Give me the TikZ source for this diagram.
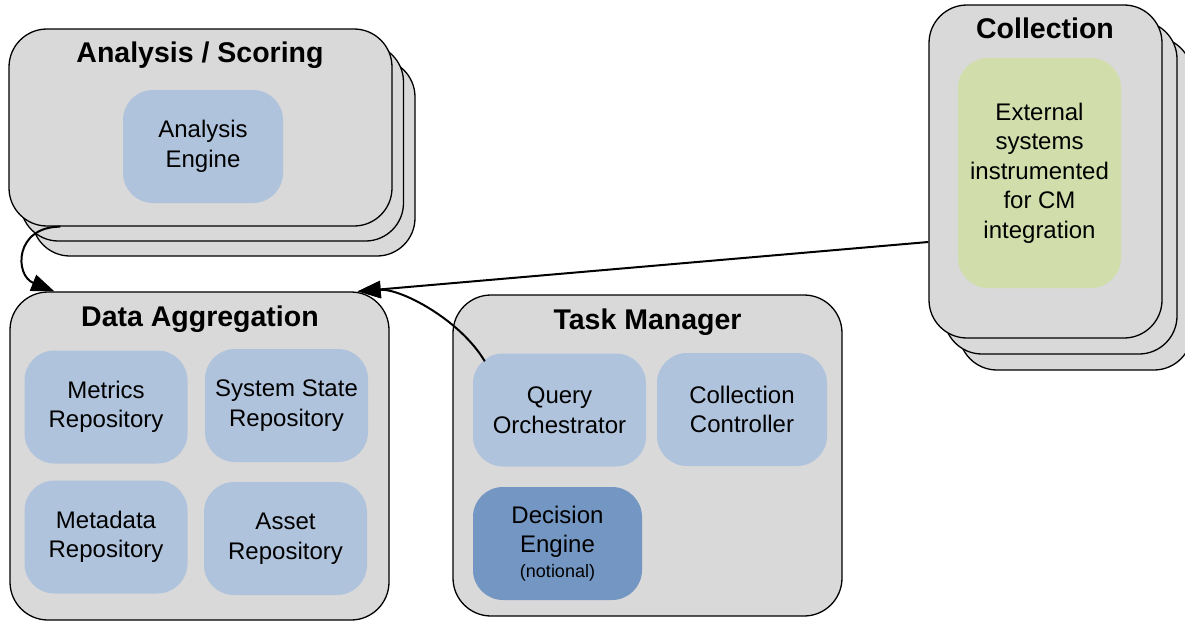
\documentclass[tikz,border=0pt]{standalone}
\usepackage{fontspec}
\setmainfont{Liberation Sans}
\usetikzlibrary{arrows.meta}
\definecolor{boxgray}{HTML}{D9D9D9}
\definecolor{lblue}{HTML}{B0C3DC}
\definecolor{dblue}{HTML}{7396C2}
\definecolor{lgreen}{HTML}{D1DEAB}
\tikzset{
  outer/.style={draw=black, line width=1.3pt, fill=boxgray, rounded corners=38pt, inner sep=0pt},
  inner/.style={fill=lblue, rounded corners=30pt, inner sep=0pt, align=center,
    font=\fontsize{24}{29.5}\selectfont},
  title/.style={anchor=base, inner sep=0pt, font=\fontsize{28.5}{32}\selectfont\bfseries},
  conn/.style={draw=black, line width=2pt, -{Triangle[length=23pt,width=17pt]}}
}
\begin{document}
\begin{tikzpicture}[x=1pt,y=-1pt]
\useasboundingbox (0,0) rectangle (1185,621);
% Analysis / Scoring stack
\node[outer, minimum width=383pt, minimum height=197pt] (as3) at (223.5,157.5) {};
\node[outer, minimum width=383pt, minimum height=197pt] (as2) at (212,142.5) {};
\node[outer, minimum width=383pt, minimum height=197pt] (as) at (200.5,127.5) {};
\node[title] (ast) at (200,62) {Analysis / Scoring};
\node[inner, minimum width=160pt, minimum height=113pt] (ae) at (203,146.5) {Analysis\\Engine};
% Collection stack
\node[outer, minimum width=233pt, minimum height=333pt] (co3) at (1075.5,203.5) {};
\node[outer, minimum width=233pt, minimum height=333pt] (co2) at (1060.5,187.5) {};
\node[outer, minimum width=233pt, minimum height=333pt] (co) at (1045.5,171.5) {};
\node[title] (cot) at (1045,38) {Collection};
\node[inner, fill=lgreen, minimum width=163pt, minimum height=230pt] (ext) at (1039.5,173)
  {External\\systems\\instrumented\\for CM\\integration};
% Data Aggregation
\node[outer, minimum width=379pt, minimum height=328pt] (da) at (199.5,456) {};
\node[title] (dat) at (200,326) {Data Aggregation};
\node[inner, minimum width=163pt, minimum height=113pt] (mr) at (106,407) {Metrics\\Repository};
\node[inner, minimum width=163pt, minimum height=113pt] (ssr) at (286.5,405.5) {System State\\Repository};
\node[inner, minimum width=163pt, minimum height=113pt] (mdr) at (106,537) {Metadata\\Repository};
\node[inner, minimum width=163pt, minimum height=113pt] (ar) at (285.5,538.5) {Asset\\Repository};
% Task Manager
\node[outer, minimum width=389pt, minimum height=321pt] (tm) at (647.5,455.5) {};
\node[title] (tmt) at (647.5,329) {Task Manager};
\node[inner, minimum width=173pt, minimum height=113pt] (qo) at (559.5,410) {Query\\Orchestrator};
\node[inner, minimum width=170pt, minimum height=113pt] (cc) at (742,409.5) {Collection\\Controller};
\node[inner, fill=dblue, minimum width=169pt, minimum height=113pt] (de) at (557.5,543.5)
  {Decision\\Engine\\[-5pt]{\fontsize{18}{21}\selectfont (notional)}};
% connectors
\draw[conn] ([xshift=52pt]as.south west) .. controls +(-46,0) and +(-40,-16) .. ([xshift=45pt]da.north west);
\draw[conn] ([yshift=-70.5pt]co.west) -- ([xshift=-32pt]da.north east);
\draw[conn] ([xshift=12pt,yshift=-8pt]qo.north west) .. controls +(-25,-42) and +(43,-3) .. ([xshift=-32pt]da.north east);
\end{tikzpicture}
\end{document}
